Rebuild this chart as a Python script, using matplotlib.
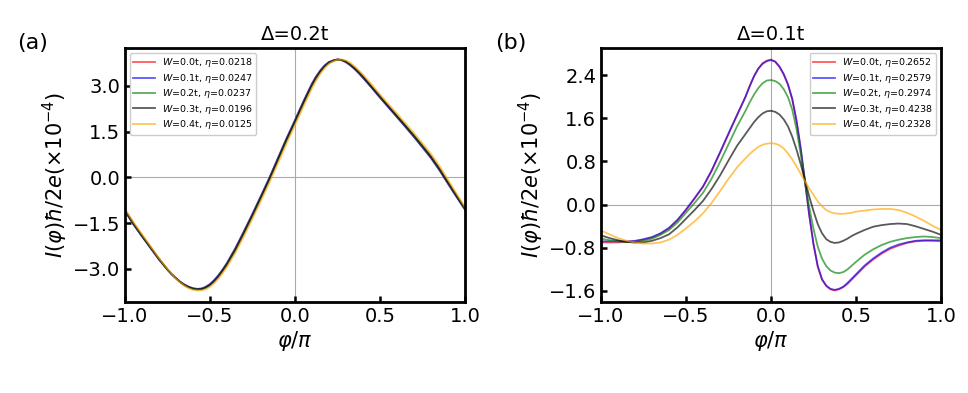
import numpy as np
import matplotlib
matplotlib.use("Agg")
import matplotlib.pyplot as plt
from matplotlib.ticker import MultipleLocator

# ---------------- panel (a): Delta = 0.2t ----------------
phi_a = [-1.0, -0.95, -0.9, -0.85, -0.8, -0.75, -0.725, -0.7, -0.675, -0.65,
         -0.625, -0.6, -0.575, -0.55, -0.525, -0.5, -0.475, -0.45, -0.425, -0.4,
         -0.35, -0.3, -0.25, -0.2, -0.15, -0.1, -0.05, 0.0, 0.05, 0.1,
         0.125, 0.15, 0.175, 0.2, 0.225, 0.25, 0.275, 0.3, 0.325, 0.35,
         0.375, 0.4, 0.45, 0.5, 0.55, 0.6, 0.65, 0.7, 0.75, 0.8,
         0.85, 0.9, 0.95, 1.0]
labels_a = [r"$W$=0.0t, $\eta$=0.0218", r"$W$=0.1t, $\eta$=0.0247",
            r"$W$=0.2t, $\eta$=0.0237", r"$W$=0.3t, $\eta$=0.0196",
            r"$W$=0.4t, $\eta$=0.0125"]
a_w00 = [-1.10, -1.54, -1.93, -2.31, -2.69, -3.03, -3.18, -3.31, -3.43, -3.52,
         -3.59, -3.64, -3.66, -3.65, -3.60, -3.51, -3.38, -3.22, -3.03, -2.82,
         -2.33, -1.78, -1.21, -0.62, -0.02, 0.62, 1.26, 1.86, 2.48, 3.06,
         3.30, 3.50, 3.66, 3.77, 3.83, 3.86, 3.84, 3.78, 3.68, 3.56,
         3.42, 3.27, 2.95, 2.62, 2.30, 1.98, 1.66, 1.33, 0.99, 0.64,
         0.24, -0.20, -0.63, -1.05]
a_w01 = [-1.11, -1.55, -1.94, -2.32, -2.70, -3.03, -3.18, -3.31, -3.43, -3.52,
         -3.59, -3.64, -3.66, -3.65, -3.59, -3.50, -3.37, -3.21, -3.02, -2.81,
         -2.32, -1.77, -1.20, -0.61, -0.01, 0.63, 1.27, 1.87, 2.49, 3.07,
         3.31, 3.51, 3.67, 3.78, 3.83, 3.86, 3.84, 3.77, 3.67, 3.55,
         3.41, 3.26, 2.94, 2.61, 2.29, 1.97, 1.65, 1.32, 0.98, 0.63,
         0.23, -0.21, -0.64, -1.06]
a_w02 = [-1.09, -1.53, -1.92, -2.30, -2.68, -3.03, -3.18, -3.31, -3.43, -3.53,
         -3.60, -3.65, -3.67, -3.66, -3.61, -3.53, -3.40, -3.24, -3.05, -2.84,
         -2.36, -1.81, -1.24, -0.65, -0.05, 0.59, 1.23, 1.83, 2.45, 3.03,
         3.28, 3.48, 3.64, 3.76, 3.82, 3.86, 3.84, 3.79, 3.69, 3.58,
         3.44, 3.29, 2.97, 2.64, 2.32, 2.00, 1.68, 1.35, 1.01, 0.67,
         0.27, -0.18, -0.61, -1.04]
a_w03 = [-1.08, -1.51, -1.91, -2.29, -2.67, -3.02, -3.18, -3.31, -3.44, -3.54,
         -3.61, -3.66, -3.68, -3.67, -3.63, -3.54, -3.42, -3.26, -3.07, -2.87,
         -2.39, -1.84, -1.27, -0.68, -0.08, 0.56, 1.20, 1.80, 2.42, 3.00,
         3.25, 3.46, 3.63, 3.75, 3.82, 3.86, 3.85, 3.80, 3.71, 3.59,
         3.46, 3.31, 2.99, 2.66, 2.34, 2.02, 1.70, 1.38, 1.04, 0.69,
         0.29, -0.15, -0.59, -1.02]
a_w04 = [-1.04, -1.47, -1.87, -2.26, -2.65, -3.01, -3.17, -3.32, -3.45, -3.56,
         -3.64, -3.69, -3.71, -3.71, -3.67, -3.59, -3.47, -3.32, -3.14, -2.94,
         -2.47, -1.93, -1.36, -0.77, -0.17, 0.46, 1.10, 1.71, 2.32, 2.92,
         3.18, 3.40, 3.58, 3.72, 3.80, 3.85, 3.86, 3.83, 3.75, 3.64,
         3.51, 3.37, 3.05, 2.72, 2.40, 2.09, 1.77, 1.45, 1.11, 0.77,
         0.37, -0.08, -0.53, -0.98]

# ---------------- panel (b): Delta = 0.1t ----------------
phi_b = [-1.0, -0.95, -0.9, -0.85, -0.8, -0.75, -0.7, -0.65, -0.6, -0.55,
         -0.5, -0.45, -0.4, -0.35, -0.3, -0.25, -0.2, -0.15, -0.125, -0.1,
         -0.075, -0.05, -0.025, 0.0, 0.025, 0.05, 0.075, 0.1, 0.125, 0.15,
         0.175, 0.2, 0.225, 0.25, 0.275, 0.3, 0.325, 0.35, 0.375, 0.4,
         0.425, 0.45, 0.475, 0.5, 0.55, 0.6, 0.65, 0.7, 0.75, 0.8,
         0.85, 0.9, 0.95, 1.0]
labels_b = [r"$W$=0.0t, $\eta$=0.2652", r"$W$=0.1t, $\eta$=0.2579",
            r"$W$=0.2t, $\eta$=0.2974", r"$W$=0.3t, $\eta$=0.4238",
            r"$W$=0.4t, $\eta$=0.2328"]
b_w00 = [-0.70, -0.70, -0.70, -0.69, -0.68, -0.65, -0.61, -0.54, -0.44, -0.29,
         -0.10, 0.11, 0.33, 0.62, 0.96, 1.31, 1.66, 2.00, 2.20, 2.38,
         2.52, 2.62, 2.67, 2.69, 2.65, 2.55, 2.41, 2.22, 1.95, 1.55,
         1.03, 0.42, -0.20, -0.74, -1.15, -1.39, -1.51, -1.57, -1.59, -1.57,
         -1.53, -1.47, -1.39, -1.31, -1.15, -1.02, -0.91, -0.82, -0.76, -0.71,
         -0.68, -0.67, -0.67, -0.68]
b_w01 = [-0.68, -0.68, -0.68, -0.68, -0.67, -0.64, -0.60, -0.53, -0.43, -0.28,
         -0.09, 0.12, 0.34, 0.63, 0.97, 1.32, 1.66, 2.00, 2.20, 2.38,
         2.52, 2.61, 2.66, 2.68, 2.65, 2.56, 2.42, 2.23, 1.96, 1.56,
         1.04, 0.43, -0.19, -0.73, -1.14, -1.38, -1.50, -1.56, -1.58, -1.56,
         -1.52, -1.45, -1.37, -1.29, -1.13, -1.00, -0.89, -0.80, -0.74, -0.70,
         -0.67, -0.66, -0.66, -0.66]
b_w02 = [-0.63, -0.66, -0.68, -0.69, -0.70, -0.67, -0.63, -0.56, -0.47, -0.33,
         -0.15, 0.03, 0.22, 0.48, 0.79, 1.12, 1.45, 1.74, 1.90, 2.04,
         2.16, 2.25, 2.30, 2.31, 2.29, 2.24, 2.14, 1.99, 1.76, 1.40,
         0.93, 0.42, -0.05, -0.45, -0.78, -1.00, -1.14, -1.22, -1.26, -1.27,
         -1.25, -1.20, -1.13, -1.06, -0.93, -0.83, -0.75, -0.69, -0.65, -0.62,
         -0.60, -0.59, -0.60, -0.62]
b_w03 = [-0.57, -0.62, -0.66, -0.69, -0.70, -0.70, -0.67, -0.62, -0.55, -0.42,
         -0.26, -0.10, 0.07, 0.29, 0.54, 0.82, 1.09, 1.31, 1.42, 1.53,
         1.62, 1.69, 1.73, 1.74, 1.72, 1.67, 1.58, 1.45, 1.26, 1.02,
         0.75, 0.45, 0.15, -0.12, -0.36, -0.53, -0.64, -0.69, -0.71, -0.70,
         -0.67, -0.63, -0.58, -0.54, -0.47, -0.41, -0.38, -0.36, -0.35, -0.36,
         -0.40, -0.45, -0.50, -0.56]
b_w04 = [-0.48, -0.55, -0.62, -0.67, -0.70, -0.72, -0.72, -0.70, -0.65, -0.56,
         -0.44, -0.31, -0.16, 0.03, 0.25, 0.48, 0.69, 0.86, 0.94, 1.01,
         1.07, 1.11, 1.13, 1.14, 1.13, 1.10, 1.04, 0.95, 0.84, 0.71,
         0.57, 0.43, 0.30, 0.18, 0.06, -0.03, -0.10, -0.14, -0.16, -0.17,
         -0.17, -0.16, -0.15, -0.13, -0.11, -0.09, -0.08, -0.08, -0.10, -0.15,
         -0.22, -0.30, -0.39, -0.47]

colors = ["red", "blue", "green", "black", "orange"]
series_a = [a_w00, a_w01, a_w02, a_w03, a_w04]
series_b = [b_w00, b_w01, b_w02, b_w03, b_w04]

fig = plt.figure(figsize=(9.68, 3.93), dpi=100)
ax1 = fig.add_axes([0.1291, 0.2316, 0.3512, 0.6463])
ax2 = fig.add_axes([0.6209, 0.2316, 0.3512, 0.6463])

ylabel = r"$I(\varphi)\hbar/2e(\times10^{-4})$"

def style(ax, x, series, labels, title, loc, ystep):
    ax.axhline(0, color="#aaaaaa", lw=0.8, zorder=0)
    ax.axvline(0, color="#aaaaaa", lw=0.8, zorder=0)
    for y, c, lab in zip(series, colors, labels):
        ax.plot(x, y, color=c, alpha=0.65, lw=1.3, label=lab)
    ax.set_xlim(-1, 1)
    ax.xaxis.set_major_locator(MultipleLocator(0.5))
    ax.yaxis.set_major_locator(MultipleLocator(ystep))
    ax.tick_params(direction="in", length=4, width=1.8, labelsize=14)
    for s in ax.spines.values():
        s.set_linewidth(2)
    ax.set_xlabel(r"$\varphi/\pi$", fontsize=15, labelpad=2)
    ax.set_ylabel(ylabel, fontsize=15, labelpad=2)
    ax.set_title(title, fontsize=14, pad=6)
    ax.legend(loc=loc, fontsize=6.8, handlelength=2.3, borderpad=0.4,
              labelspacing=0.25, handletextpad=0.7, framealpha=1)

style(ax1, phi_a, series_a, labels_a, r"Δ=0.2t", "upper left", 1.5)
style(ax2, phi_b, series_b, labels_b, r"Δ=0.1t", "upper right", 0.8)

fig.text(0.018, 0.875, "(a)", fontsize=16)
fig.text(0.512, 0.875, "(b)", fontsize=16)

fig.savefig("out.png", dpi=100)
